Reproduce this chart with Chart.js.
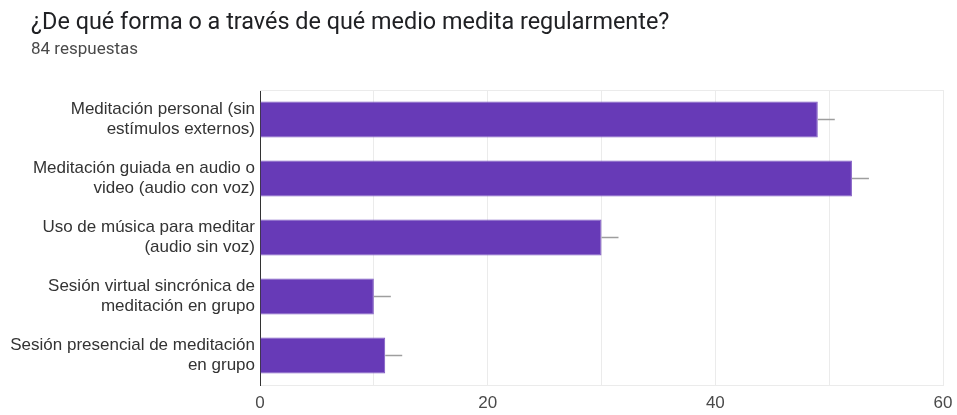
<!DOCTYPE html>
<html>
<head>
<meta charset="utf-8">
<script src="https://cdn.jsdelivr.net/npm/chart.js@4"></script>
<style>
  html, body { margin: 0; padding: 0; background: #ffffff; }
  #wrap { position: relative; width: 957px; height: 415px; }
  #wrap canvas { position: absolute; left: 0; top: 0; }
  .question {
    position: absolute; left: 31px; top: 7px;
    font: 23.4px/28px Roboto, sans-serif; color: #202124; white-space: nowrap;
  }
  .count {
    position: absolute; left: 31px; top: 38px;
    font: 17px/20px Roboto, sans-serif; color: #4a4a4a;
  }
</style>
</head>
<body>
<div id="wrap">
  <canvas id="barChart"></canvas>
  <div class="question" id="question"></div>
  <div class="count" id="count"></div>
</div>
<script>
const questionTitle = '¿De qué forma o a través de qué medio medita regularmente?';
const responseCount = '84 respuestas';

const categories = [
    ['Meditación personal (sin', 'estímulos externos)'],
    ['Meditación guiada en audio o', 'video (audio con voz)'],
    ['Uso de música para meditar', '(audio sin voz)'],
    ['Sesión virtual sincrónica de', 'meditación en grupo'],
    ['Sesión presencial de meditación', 'en grupo']
];
const counts = [49, 52, 30, 10, 11];
const axisMax = 60;
const labelledTicks = [0, 20, 40, 60];

document.getElementById('question').textContent = questionTitle;
document.getElementById('count').textContent = responseCount;

// short gray stub drawn off the end of each bar, plus the top frame line
const stubPlugin = {
    id: 'stubs',
    afterDatasetsDraw(chart) {
        const ctx = chart.ctx;
        const area = chart.chartArea;
        ctx.save();
        ctx.strokeStyle = '#ebebeb';
        ctx.lineWidth = 1;
        ctx.beginPath();
        ctx.moveTo(area.left, area.top + 0.5);
        ctx.lineTo(area.right, area.top + 0.5);
        ctx.stroke();

        ctx.strokeStyle = '#9e9e9e';
        ctx.lineWidth = 1.5;
        chart.getDatasetMeta(0).data.forEach(bar => {
            ctx.beginPath();
            ctx.moveTo(bar.x, bar.y);
            ctx.lineTo(bar.x + 17, bar.y);
            ctx.stroke();
        });
        ctx.restore();
    }
};

new Chart(document.getElementById('barChart'), {
    type: 'bar',
    data: {
        labels: categories,
        datasets: [{
            data: counts,
            backgroundColor: '#673ab7',
            borderColor: '#7e57c2',
            borderWidth: 1,
            barPercentage: 0.61,
            categoryPercentage: 1
        }]
    },
    plugins: [stubPlugin],
    options: {
        indexAxis: 'y',
        responsive: true,
        maintainAspectRatio: false,
        animation: false,
        layout: { padding: { left: 0, right: 0, top: 90, bottom: 0 } },
        plugins: {
            legend: { display: false },
            tooltip: { enabled: false }
        },
        scales: {
            x: {
                min: 0,
                max: axisMax,
                grid: { color: '#ebebeb', drawTicks: false },
                border: { color: '#ebebeb' },
                afterFit: scale => {
                    scale.height = 30;
                    scale.paddingLeft = 0;
                    scale.paddingRight = 14;
                },
                ticks: {
                    stepSize: 10,
                    padding: 8,
                    color: '#4a4a4a',
                    font: { family: 'Arial', size: 17 },
                    callback: v => labelledTicks.includes(v) ? v : ''
                }
            },
            y: {
                grid: { display: false, drawTicks: false },
                border: { color: '#333333', width: 1 },
                afterFit: scale => { scale.width = 260; },
                ticks: {
                    padding: 5,
                    color: '#333333',
                    font: { family: 'Arial', size: 17 }
                }
            }
        }
    }
});
</script>
</body>
</html>
